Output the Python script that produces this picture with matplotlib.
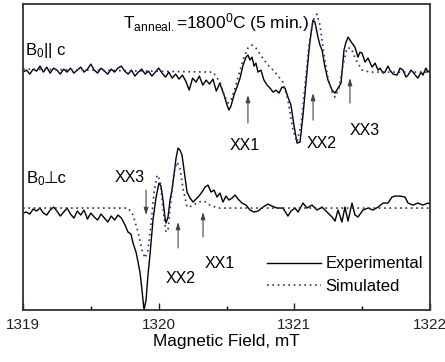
import matplotlib
matplotlib.use("Agg")
import matplotlib.pyplot as plt

plt.rcParams['font.family'] = ['Liberation Sans', 'DejaVu Sans']
plt.rcParams['mathtext.fontset'] = 'custom'
plt.rcParams['mathtext.rm'] = 'Liberation Sans'
plt.rcParams['mathtext.it'] = 'Liberation Sans:italic'
plt.rcParams['mathtext.bf'] = 'Liberation Sans:bold'

# B0 || c, experimental (field in mT, signal in arb. units with offset)
par_exp_field = [
    1319.000, 1319.025, 1319.050, 1319.075, 1319.100, 1319.125, 1319.150, 1319.175,
    1319.200, 1319.225, 1319.250, 1319.275, 1319.300, 1319.325, 1319.350, 1319.375,
    1319.400, 1319.425, 1319.450, 1319.475, 1319.500, 1319.525, 1319.550, 1319.575,
    1319.600, 1319.625, 1319.650, 1319.675, 1319.700, 1319.725, 1319.750, 1319.775,
    1319.800, 1319.825, 1319.850, 1319.875, 1319.900, 1319.925, 1319.950, 1319.975,
    1320.000, 1320.025, 1320.050, 1320.075, 1320.100, 1320.125, 1320.150, 1320.175,
    1320.200, 1320.225, 1320.250, 1320.275, 1320.300, 1320.325, 1320.350, 1320.375,
    1320.400, 1320.425, 1320.450, 1320.482, 1320.504, 1320.518, 1320.533, 1320.555,
    1320.577, 1320.600, 1320.622, 1320.644, 1320.658, 1320.673, 1320.688, 1320.703,
    1320.717, 1320.732, 1320.754, 1320.776, 1320.799, 1320.821, 1320.843, 1320.865,
    1320.887, 1320.909, 1320.931, 1320.953, 1320.975, 1320.997, 1321.020, 1321.042,
    1321.064, 1321.086, 1321.108, 1321.123, 1321.138, 1321.152, 1321.174, 1321.189,
    1321.204, 1321.226, 1321.248, 1321.278, 1321.300, 1321.322, 1321.344, 1321.366,
    1321.381, 1321.396, 1321.410, 1321.425, 1321.447, 1321.469, 1321.484, 1321.499,
    1321.521, 1321.543, 1321.573, 1321.595, 1321.617, 1321.632, 1321.654, 1321.668,
    1321.690, 1321.705, 1321.727, 1321.757, 1321.779, 1321.801, 1321.823, 1321.838,
    1321.860, 1321.875, 1321.897, 1321.911, 1321.934, 1321.948, 1321.970, 1321.985,
    1322.000]
par_exp_signal = [
    238, 240, 236, 241, 239, 244, 238, 243,
    237, 242, 240, 236, 241, 238, 242, 237,
    240, 243, 238, 241, 246, 240, 237, 242,
    239, 236, 241, 238, 242, 244, 239, 236,
    240, 234, 238, 241, 236, 239, 234, 238,
    242, 237, 233, 238, 232, 236, 231, 235,
    229, 220, 232, 228, 234, 225, 230, 226,
    231, 219, 227, 215, 205, 200, 204, 215,
    223, 232, 245, 253, 255, 250, 253, 244,
    247, 238, 240, 230, 225, 222, 218, 220,
    217, 223, 222, 213, 205, 185, 167, 168,
    195, 228, 260, 277, 290, 288, 273, 265,
    260, 243, 230, 220, 217, 222, 227, 260,
    268, 273, 270, 267, 263, 253, 258, 257,
    248, 252, 243, 247, 240, 242, 237, 238,
    244, 240, 236, 235, 242, 240, 233, 235,
    240, 238, 234, 232, 238, 235, 242, 238,
    240]

# B0 || c, simulated
par_sim_field = [1319.000, 1320.400, 1320.452, 1320.482, 1320.511, 1320.533, 1320.563,
                 1320.600, 1320.629, 1320.658, 1320.688, 1320.717, 1320.762, 1320.806,
                 1320.857, 1320.916, 1320.953, 1320.990, 1321.020, 1321.049, 1321.079,
                 1321.108, 1321.138, 1321.167, 1321.189, 1321.219, 1321.248, 1321.278,
                 1321.300, 1321.329, 1321.359, 1321.388, 1321.418, 1321.455, 1321.499,
                 1321.558, 1322.000]
par_sim_signal = [241, 238, 228, 215, 207, 210, 222,
                  240, 253, 262, 265, 262, 253, 245,
                  238, 228, 210, 180, 168, 185, 225,
                  265, 290, 296, 285, 255, 232, 218,
                  213, 222, 245, 262, 262, 250, 240,
                  238, 238]

# B0 perp c, experimental
perp_exp_field = [
    1319.000, 1319.025, 1319.050, 1319.075, 1319.100, 1319.125, 1319.150, 1319.175,
    1319.200, 1319.225, 1319.250, 1319.275, 1319.300, 1319.325, 1319.350, 1319.375,
    1319.400, 1319.425, 1319.450, 1319.475, 1319.500, 1319.525, 1319.550, 1319.575,
    1319.600, 1319.625, 1319.650, 1319.675, 1319.700, 1319.725, 1319.752, 1319.774,
    1319.796, 1319.811, 1319.833, 1319.848, 1319.863, 1319.877, 1319.892, 1319.907,
    1319.921, 1319.936, 1319.958, 1319.980, 1320.002, 1320.017, 1320.032, 1320.047,
    1320.054, 1320.069, 1320.084, 1320.098, 1320.113, 1320.128, 1320.143, 1320.157,
    1320.172, 1320.187, 1320.209, 1320.231, 1320.253, 1320.275, 1320.297, 1320.319,
    1320.342, 1320.364, 1320.386, 1320.408, 1320.430, 1320.452, 1320.474, 1320.496,
    1320.518, 1320.541, 1320.563, 1320.585, 1320.614, 1320.644, 1320.673, 1320.703,
    1320.732, 1320.769, 1320.806, 1320.835, 1320.872, 1320.916, 1320.953, 1320.975,
    1321.005, 1321.027, 1321.064, 1321.093, 1321.130, 1321.167, 1321.204, 1321.241,
    1321.278, 1321.300, 1321.322, 1321.351, 1321.373, 1321.396, 1321.425, 1321.447,
    1321.469, 1321.506, 1321.543, 1321.580, 1321.617, 1321.654, 1321.690, 1321.720,
    1321.742, 1321.779, 1321.816, 1321.838, 1321.875, 1321.911, 1321.948, 1321.985,
    1322.000]
perp_exp_signal = [
    97, 98, 96, 101, 99, 102, 97, 95,
    100, 103, 99, 94, 98, 102, 96, 92,
    99, 95, 100, 91, 97, 93, 90, 96,
    92, 88, 94, 90, 95, 92, 85, 78,
    76, 67, 58, 48, 37, 20, 0, 10,
    35, 55, 90, 112, 127, 124, 110, 92,
    87, 93, 110, 120, 135, 152, 162, 160,
    155, 140, 118, 112, 108, 111, 114, 118,
    123, 125, 118, 120, 113, 117, 108, 114,
    110, 112, 115, 111, 107, 105, 100, 98,
    99, 103, 106, 104, 102, 102, 94, 99,
    102, 98, 107, 102, 105, 100, 103, 98,
    93, 89, 100, 88, 103, 89, 107, 95,
    93, 100, 102, 100, 103, 107, 107, 113,
    114, 114, 113, 107, 105, 107, 105, 107,
    106]

# B0 perp c, simulated
perp_sim_field = [1319.000, 1319.774, 1319.811, 1319.848, 1319.877, 1319.899, 1319.921,
                  1319.943, 1319.966, 1319.988, 1320.010, 1320.032, 1320.054, 1320.069,
                  1320.091, 1320.113, 1320.135, 1320.157, 1320.179, 1320.209, 1320.246,
                  1320.290, 1320.334, 1320.378, 1320.437, 1322.000]
perp_sim_signal = [102, 102, 95, 78, 60, 52, 60,
                   85, 118, 135, 130, 102, 78, 80,
                   110, 138, 148, 142, 122, 103, 104,
                   108, 109, 105, 102, 102]

line_labels = ['XX1', 'XX2', 'XX3']
par_line_field = [1320.658, 1321.138, 1321.410]
perp_line_field = [1320.327, 1320.143, 1319.907]

fig = plt.figure(figsize=(4.45, 3.62), dpi=100)
ax = fig.add_axes([0.0517, 0.1436, 0.9146, 0.845])

ax.plot(par_exp_field, par_exp_signal, color='black', lw=1.0, label='Experimental')
ax.plot(par_sim_field, par_sim_signal, color='#2b2b8c', lw=1.2, ls=(0, (1, 2.2)),
        label='Simulated')
ax.plot(perp_exp_field, perp_exp_signal, color='black', lw=1.0)
ax.plot(perp_sim_field, perp_sim_signal, color='#2b2b8c', lw=1.2, ls=(0, (1, 2.2)))

ax.set_xlim(1319, 1322)
ax.set_ylim(0, 306)
ax.set_xticks([1319, 1320, 1321, 1322])
ax.set_xticks([1319.5, 1320.5, 1321.5], minor=True)
ax.set_yticks([])
ax.tick_params(axis='x', which='major', direction='in', length=5, width=1,
               labelsize=11, pad=6, colors='#222222')
ax.tick_params(axis='x', which='minor', direction='in', length=3, width=1)
for sp in ax.spines.values():
    sp.set_color('#333333')
    sp.set_linewidth(1.3)
ax.set_xlabel('Magnetic Field, mT', fontsize=12.4, labelpad=1)

arrow = dict(arrowstyle='-|>,head_length=0.7,head_width=0.22', color='#444444',
             lw=0.8, mutation_scale=6, shrinkA=0, shrinkB=0)
# B0 || c arrows and labels
par_tails = [187, 190, 207]
par_heads = [215, 217, 232]
par_text = [(1320.636, 165), (1321.204, 167), (1321.521, 180)]
for lab, f, t0, t1, pos in zip(line_labels, par_line_field, par_tails, par_heads, par_text):
    ax.annotate('', xy=(f, t1), xytext=(f, t0), arrowprops=arrow)
    ax.text(pos[0], pos[1], lab, fontsize=11.5, ha='center', va='center')
# B0 perp c arrows and labels
perp_tails = [73, 62, 120]
perp_heads = [98, 88, 95]
perp_text = [(1320.452, 47), (1320.165, 32), (1319.789, 133)]
for lab, f, t0, t1, pos in zip(line_labels, perp_line_field, perp_tails, perp_heads, perp_text):
    ax.annotate('', xy=(f, t1), xytext=(f, t0), arrowprops=arrow)
    ax.text(pos[0], pos[1], lab, fontsize=11.5, ha='center', va='center')

ax.text(1319.737, 282, r'T$_{\mathrm{anneal.}}$=1800$^{0}$C (5 min.)', fontsize=12.5,
        ha='left', va='baseline')
ax.text(1319.015, 255, r'B$_0$|| c', fontsize=12, ha='left', va='baseline')
ax.text(1319.02, 127, r'B$_0$', fontsize=12, ha='left', va='baseline')
ax.text(1319.155, 127, '\u22a5c', fontsize=12, ha='left', va='baseline',
        family=['Liberation Sans', 'DejaVu Sans'])

ax.legend(loc='upper left', bbox_to_anchor=(0.60, 0.175), frameon=False,
          handlelength=3.2, handletextpad=0.3, labelspacing=0.45, borderpad=0,
          borderaxespad=0, fontsize=12)

fig.savefig('out.png', dpi=100)
